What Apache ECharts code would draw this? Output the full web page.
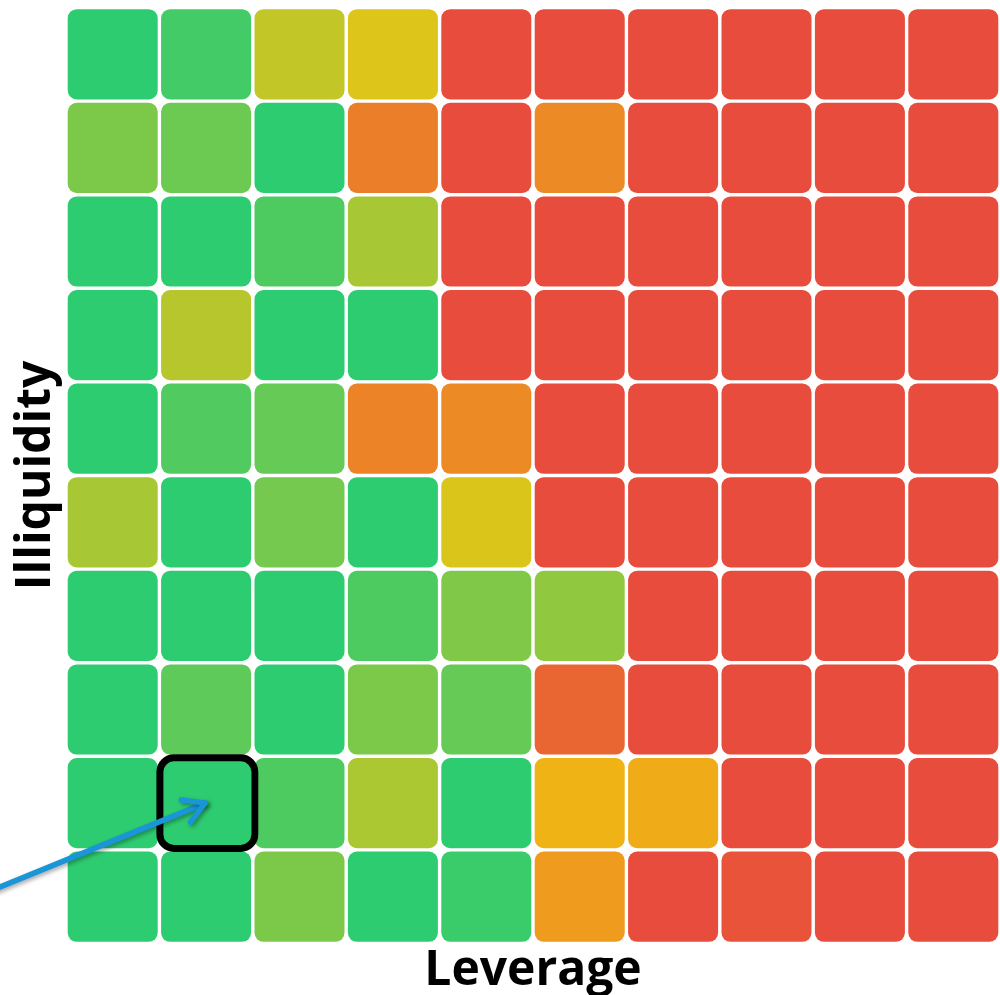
<!DOCTYPE html>
<html>
<head>
<meta charset="utf-8">
<script src="https://cdn.jsdelivr.net/npm/echarts@6/dist/echarts.min.js"></script>
<style>
  html, body { margin: 0; padding: 0; background: #fff; }
  #chart { width: 1000px; height: 995px; }
</style>
</head>
<body>
<div id="chart"></div>
<script>
// leverage buckets, left to right
const leverageLevels = ['1', '2', '3', '4', '5', '6', '7', '8', '9', '10'];
// illiquidity buckets, top to bottom
const illiquidityLevels = ['10', '9', '8', '7', '6', '5', '4', '3', '2', '1'];

// risk score per cell (0 = green, 50 = yellow, 100 = red), rows top to bottom
const riskRows = [
  [0, 5, 38, 45, 100, 100, 100, 100, 100, 100],
  [20, 16, 0, 79, 100, 74, 100, 100, 100, 100],
  [0, 0, 8, 31, 100, 100, 100, 100, 100, 100],
  [0, 35, 0, 0, 100, 100, 100, 100, 100, 100],
  [0, 9, 14, 77, 74, 100, 100, 100, 100, 100],
  [31, 0, 18, 0, 44, 100, 100, 100, 100, 100],
  [0, 0, 0, 8, 21, 25, 100, 100, 100, 100],
  [0, 12, 0, 20, 14, 89, 100, 100, 100, 100],
  [0, 0, 8, 32, 0, 57, 60, 100, 100, 100],
  [0, 0, 20, 0, 3, 67, 100, 97, 100, 100]
];

// [leverage index, illiquidity row index] of the marked cell
const highlightCell = [1, 8];

const cells = [];
riskRows.forEach((row, y) => {
  row.forEach((v, x) => cells.push([x, y, v]));
});

function renderCell(params, api) {
  const c = api.coord([api.value(0), api.value(1)]);
  const s = api.size([1, 1]);
  const gap = 3.4;
  return {
    type: 'rect',
    shape: {
      x: c[0] - s[0] / 2 + gap / 2,
      y: c[1] - s[1] / 2 + gap / 2,
      width: s[0] - gap,
      height: s[1] - gap,
      r: 9
    },
    style: { fill: api.visual('color') }
  };
}

function renderHighlight(params, api) {
  const c = api.coord([api.value(0), api.value(1)]);
  const s = api.size([1, 1]);
  // arrow comes in from the left edge and points at the cell centre
  const tip = [c[0] - 1, c[1]];
  const start = [tip[0] - 225, tip[1] + 92];
  const ang = Math.atan2(start[1] - tip[1], start[0] - tip[0]);
  const head = 24, spread = Math.PI / 6;
  const b1 = [tip[0] + head * Math.cos(ang + spread), tip[1] + head * Math.sin(ang + spread)];
  const b2 = [tip[0] + head * Math.cos(ang - spread), tip[1] + head * Math.sin(ang - spread)];
  const arrowStyle = {
    stroke: '#1a95d8',
    lineWidth: 5.5,
    fill: null,
    lineCap: 'round',
    lineJoin: 'round',
    shadowBlur: 4,
    shadowColor: 'rgba(0,0,0,0.35)',
    shadowOffsetX: 2,
    shadowOffsetY: 2
  };
  return {
    type: 'group',
    children: [
      {
        type: 'rect',
        shape: {
          x: c[0] - s[0] / 2 + 0.5,
          y: c[1] - s[1] / 2 + 1.5,
          width: s[0] + 1.5,
          height: s[1] - 3,
          r: 14
        },
        style: { fill: null, stroke: '#000', lineWidth: 7 }
      },
      {
        type: 'line',
        shape: { x1: start[0], y1: start[1], x2: tip[0], y2: tip[1] },
        style: arrowStyle
      },
      {
        type: 'polyline',
        shape: { points: [b1, tip, b2] },
        style: arrowStyle
      }
    ]
  };
}

const axisTitle = {
  fontFamily: 'Open Sans',
  fontWeight: 'bold',
  fontSize: 48,
  color: '#000'
};

const chart = echarts.init(document.getElementById('chart'));
chart.setOption({
  animation: false,
  grid: { left: 66, right: 0, top: 7.5, bottom: 51.5, outerBoundsMode: 'none' },
  xAxis: {
    type: 'category',
    data: leverageLevels,
    name: 'Leverage',
    nameLocation: 'middle',
    nameGap: 4,
    nameTextStyle: axisTitle,
    axisLine: { show: false },
    axisTick: { show: false },
    axisLabel: { show: false },
    splitLine: { show: false }
  },
  yAxis: {
    type: 'category',
    data: illiquidityLevels,
    inverse: true,
    name: 'Illiquidity',
    nameLocation: 'middle',
    nameGap: 6,
    nameTextStyle: axisTitle,
    axisLine: { show: false },
    axisTick: { show: false },
    axisLabel: { show: false },
    splitLine: { show: false }
  },
  visualMap: {
    show: false,
    min: 0,
    max: 100,
    dimension: 2,
    seriesIndex: 0,
    inRange: { color: ['#2ecc71', '#f1c40f', '#e74c3c'] }
  },
  series: [
    {
      type: 'custom',
      renderItem: renderCell,
      data: cells,
      encode: { x: 0, y: 1 }
    },
    {
      type: 'custom',
      renderItem: renderHighlight,
      data: [highlightCell],
      encode: { x: 0, y: 1 },
      z: 5
    }
  ]
});
</script>
</body>
</html>
